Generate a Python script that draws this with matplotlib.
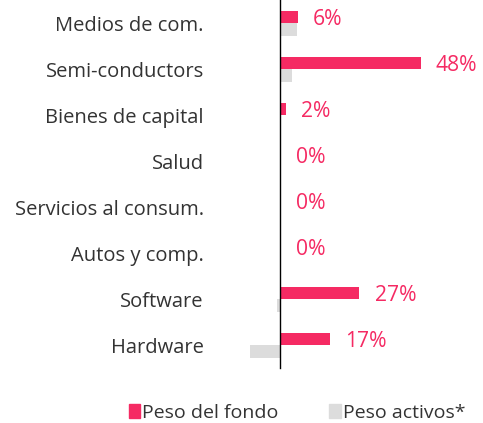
import numpy as np
import matplotlib.pyplot as plt
import matplotlib.transforms as mtransforms
from matplotlib.patches import Patch

plt.rcParams['font.family'] = ['Open Sans', 'DejaVu Sans']

sectores = ['Medios de com.', 'Semi-conductors', 'Bienes de capital', 'Salud',
            'Servicios al consum.', 'Autos y comp.', 'Software', 'Hardware']
peso_fondo = [6, 48, 2, 0, 0, 0, 27, 17]
peso_activos = [5.7, 4.0, 0, 0, 0, 0, -1.2, -10.4]

rosa = '#F52A63'
gris = '#DCDCDC'
texto = '#333333'

fig = plt.figure(figsize=(4.83, 4.23), dpi=100)
ax = fig.add_axes([245.2 / 483, 55 / 423, 210.6 / 483, 368 / 423])

y = np.arange(len(sectores))
h = 0.274
ax.barh(y - h / 2, peso_fondo, height=h, color=rosa, zorder=2)
ax.barh(y + h / 2, peso_activos, height=h, color=gris, zorder=1)

for yi, v in zip(y, peso_fondo):
    ax.annotate(f'{v}%', (v, yi - h / 2), xytext=(11, -2), textcoords='offset points',
                va='center', ha='left', color=rosa, fontsize=15.2, annotation_clip=False)

ax.set_xlim(-12, 60)
ax.set_ylim(7.49, -0.507)
ax.set_yticks(y)
ax.set_yticklabels(sectores)
ax.tick_params(axis='y', length=0, pad=55, labelsize=14.5, labelcolor=texto)
# subir un poco las etiquetas
subir = mtransforms.ScaledTranslation(0, 1.5 / 72, fig.dpi_scale_trans)
for lbl in ax.get_yticklabels():
    lbl.set_transform(lbl.get_transform() + subir)
ax.set_xticks([])
for s in ['top', 'right', 'bottom']:
    ax.spines[s].set_visible(False)
ax.spines['left'].set_position(('data', 0))
ax.spines['left'].set_linewidth(1.0)

handles = [Patch(color=rosa, label='Peso del fondo'), Patch(color=gris, label='Peso activos*')]
fig.legend(handles=handles, loc='center', bbox_to_anchor=(297 / 483, 1 - 413 / 423), ncol=2,
           frameon=False, fontsize=14, handlelength=0.6, handleheight=0.75,
           handletextpad=0.1, columnspacing=2.6, labelcolor=texto)

fig.savefig('out.png', dpi=100)
